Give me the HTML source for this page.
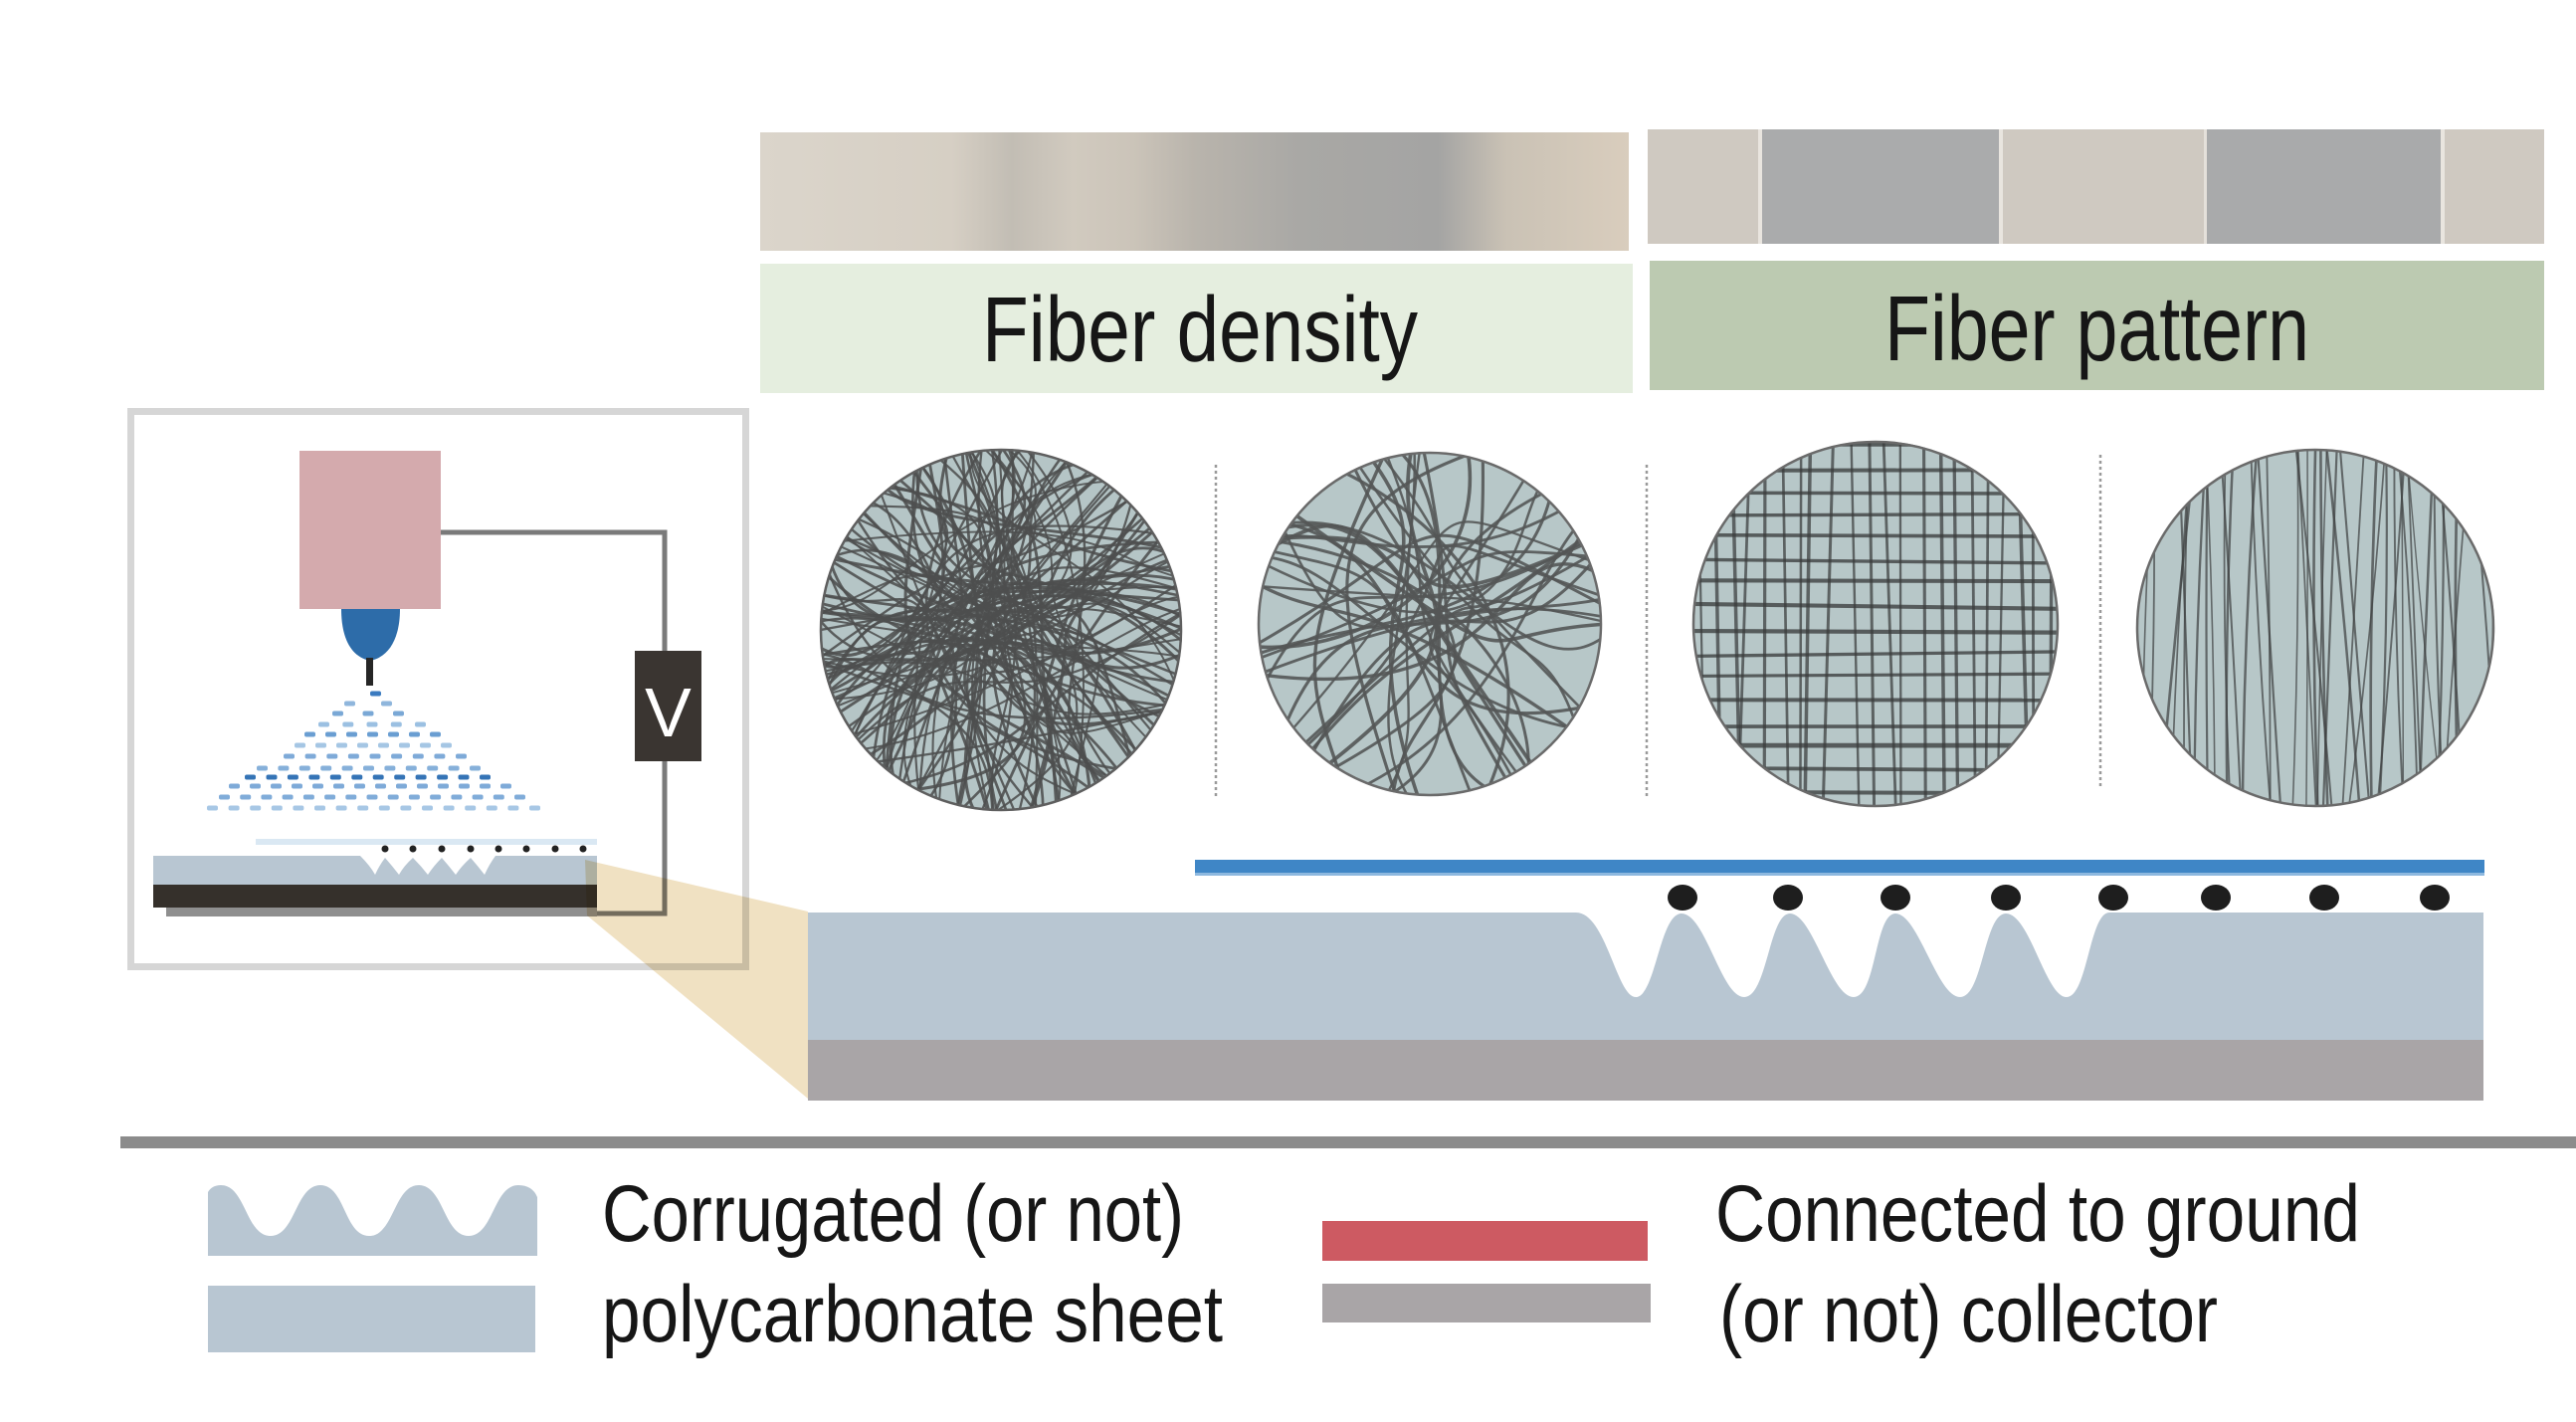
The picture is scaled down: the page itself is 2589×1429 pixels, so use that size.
<!DOCTYPE html>
<html>
<head>
<meta charset="utf-8">
<style>
  html,body{margin:0;padding:0;background:#ffffff;}
  svg{display:block;}
  text{font-family:"Liberation Sans", Arial, sans-serif;}
</style>
</head>
<body>
<svg id="root" xmlns="http://www.w3.org/2000/svg" width="2589" height="1429" viewBox="0 0 2589 1429">
  <defs>
    <linearGradient id="strip1" x1="764" y1="0" x2="1637" y2="0" gradientUnits="userSpaceOnUse">
      <stop offset="0" stop-color="#dbd5cb"/>
      <stop offset="0.22" stop-color="#d6cfc4"/>
      <stop offset="0.29" stop-color="#c2bdb4"/>
      <stop offset="0.36" stop-color="#d1cabf"/>
      <stop offset="0.43" stop-color="#cbc4b9"/>
      <stop offset="0.50" stop-color="#b9b4ac"/>
      <stop offset="0.62" stop-color="#a9a8a5"/>
      <stop offset="0.78" stop-color="#a4a4a3"/>
      <stop offset="0.86" stop-color="#cac2b5"/>
      <stop offset="1" stop-color="#d9cdbd"/>
    </linearGradient>
    <clipPath id="cp1"><circle cx="1006" cy="633" r="182"/></clipPath>
    <clipPath id="cp2"><circle cx="1437" cy="627" r="173"/></clipPath>
    <clipPath id="cp3"><circle cx="1885" cy="627" r="184"/></clipPath>
    <clipPath id="cp4"><circle cx="2327" cy="631" r="180"/></clipPath>
  </defs>

  <!-- Photo strips -->
  <rect x="764" y="133" width="873" height="119" fill="url(#strip1)"/>
  <g>
    <rect x="1656" y="130" width="901" height="115" fill="#cfc9c1"/>
    <rect x="1770" y="130" width="240" height="115" fill="#aaabac"/>
    <rect x="2217" y="130" width="237" height="115" fill="#a9aaab"/>
    <rect x="1767" y="130" width="4" height="115" fill="#e9e5df"/>
    <rect x="2009" y="130" width="4" height="115" fill="#e9e5df"/>
    <rect x="2215" y="130" width="3" height="115" fill="#e4e0da"/>
    <rect x="2453" y="130" width="4" height="115" fill="#e9e5df"/>
  </g>

  <!-- Header boxes -->
  <rect x="764" y="265" width="877" height="130" fill="#e5eedf"/>
  <rect x="1658" y="262" width="899" height="130" fill="#bccab1"/>
  <text x="987" y="363" font-size="93" fill="#161616" textLength="438" lengthAdjust="spacingAndGlyphs">Fiber density</text>
  <text x="1894" y="362" font-size="93" fill="#161616" textLength="427" lengthAdjust="spacingAndGlyphs">Fiber pattern</text>

  <!-- Circles -->
  <circle cx="1006" cy="633" r="182" fill="#b5c5c6"/>
  <circle cx="1437" cy="627" r="173" fill="#b7c7c8"/>
  <circle cx="1885" cy="627" r="184" fill="#b7c7c8"/>
  <circle cx="2327" cy="631" r="180" fill="#b7c7c8"/>
  <g id="f1" clip-path="url(#cp1)"></g>
  <g id="f2" clip-path="url(#cp2)"></g>
  <g id="f3" clip-path="url(#cp3)"></g>
  <g id="f4" clip-path="url(#cp4)"></g>
  <circle cx="1006" cy="633" r="181" fill="none" stroke="#5e5e5e" stroke-width="2.5"/>
  <circle cx="1437" cy="627" r="172" fill="none" stroke="#6a6a6a" stroke-width="2.5"/>
  <circle cx="1885" cy="627" r="183" fill="none" stroke="#6a6a6a" stroke-width="2.5"/>
  <circle cx="2327" cy="631" r="179" fill="none" stroke="#6a6a6a" stroke-width="2.5"/>

  <!-- dotted dividers -->
  <line x1="1222" y1="467" x2="1222" y2="801" stroke="#9a9a9a" stroke-width="2.5" stroke-dasharray="3,3"/>
  <line x1="1655" y1="467" x2="1655" y2="801" stroke="#9a9a9a" stroke-width="2.5" stroke-dasharray="3,3"/>
  <line x1="2111" y1="457" x2="2111" y2="790" stroke="#9a9a9a" stroke-width="2.5" stroke-dasharray="3,3"/>

  <!-- Left setup frame -->
  <rect x="131.5" y="413.5" width="618" height="558" fill="none" stroke="#d6d6d6" stroke-width="7"/>
  <!-- wire -->
  <polyline points="443,535 668,535 668,654" fill="none" stroke="#7a7a7a" stroke-width="5"/>
  <polyline points="668,765 668,918 600,918" fill="none" stroke="#7a7a7a" stroke-width="5"/>
  <!-- V box -->
  <rect x="638" y="654" width="67" height="111" fill="#3a3531"/>
  <text x="671.5" y="740" font-size="70" fill="#ffffff" text-anchor="middle">V</text>
  <!-- pump -->
  <rect x="301" y="453" width="142" height="159" fill="#d4aaad"/>
  <path d="M343,612 L402,612 C402,640 392,660 372,664 C352,660 343,640 343,612 Z" fill="#2d6ca9"/>
  <rect x="368" y="661" width="7" height="28" fill="#262626"/>
  <!-- spray -->
  <g id="spray"></g>
  <!-- small collector -->
  <rect x="257" y="843" width="343" height="6" fill="#dae8f3"/>
  <g fill="#222">
    <circle cx="387" cy="853" r="3.5"/><circle cx="415" cy="853" r="3.5"/>
    <circle cx="444" cy="853" r="3.5"/><circle cx="473" cy="853" r="3.5"/>
    <circle cx="501" cy="853" r="3.5"/><circle cx="529" cy="853" r="3.5"/>
    <circle cx="558" cy="853" r="3.5"/><circle cx="586" cy="853" r="3.5"/>
  </g>
  <path d="M154,860 L362,860 Q372,870 377,879 Q381,870 387,862 Q394,870 401,879 Q406,870 415,862 Q423,870 430,879 Q436,870 444,862 Q451,870 458,879 Q464,870 473,862 Q480,870 487,879 Q492,868 498,860 L600,860 L600,889 L154,889 Z" fill="#b8c6d2"/>
  <rect x="167" y="910" width="433" height="11" fill="#6a6a6a" opacity="0.75"/>
  <rect x="154" y="889" width="446" height="23" fill="#35302b"/>

  <!-- tan zoom trapezoid -->
  <polygon points="588,864 812,916 812,1104 590,920" fill="#f0e1c2" style="mix-blend-mode:multiply"/>

  <!-- big collector -->
  <rect x="1201" y="864" width="1296" height="15" fill="#3f86c6"/>
  <rect x="1201" y="877" width="1296" height="3" fill="#8db8df"/>
  <path d="M812,917 L1584,917 C1614,917 1625,1002 1644,1002 C1664,1002 1668,918 1690,918 C1714,918 1730,1002 1753,1002 C1776,1002 1778,918 1799,918 C1822,918 1840,1002 1863,1002 C1886,1002 1884,918 1905,918 C1928,918 1947,1002 1970,1002 C1993,1002 1994,918 2016,918 C2040,918 2056,1002 2077,1002 C2098,1002 2100,917 2120,917 L2496,917 L2496,1046 L812,1046 Z" fill="#b8c6d2"/>
  <rect x="812" y="1045" width="1684" height="61" fill="#a9a5a7"/>
  <g fill="#1e1e1e">
    <ellipse cx="1691" cy="902" rx="15" ry="13"/>
    <ellipse cx="1797" cy="902" rx="15" ry="13"/>
    <ellipse cx="1905" cy="902" rx="15" ry="13"/>
    <ellipse cx="2016" cy="902" rx="15" ry="13"/>
    <ellipse cx="2124" cy="902" rx="15" ry="13"/>
    <ellipse cx="2227" cy="902" rx="15" ry="13"/>
    <ellipse cx="2336" cy="902" rx="15" ry="13"/>
    <ellipse cx="2447" cy="902" rx="15" ry="13"/>
  </g>

  <!-- separator -->
  <rect x="121" y="1142" width="2468" height="12" fill="#8c8c8c"/>

  <!-- Legend -->
  <path d="M209,1262 L209,1198 Q213,1191 222,1191 C247,1191 247,1242 272,1242 C297,1242 297,1191 322,1191 C347,1191 346,1242 371,1242 C396,1242 396,1191 421,1191 C446,1191 446,1242 471,1242 C496,1242 496,1191 521,1191 Q535,1191 540,1203 L540,1262 Z" fill="#b8c6d2"/>
  <rect x="209" y="1292" width="329" height="67" fill="#b8c6d2"/>
  <text x="605" y="1247" font-size="81" fill="#161616" textLength="585" lengthAdjust="spacingAndGlyphs">Corrugated (or not)</text>
  <text x="605" y="1348" font-size="81" fill="#161616" textLength="624" lengthAdjust="spacingAndGlyphs">polycarbonate sheet</text>

  <rect x="1329" y="1227" width="327" height="40" fill="#cd5a62"/>
  <rect x="1329" y="1290" width="330" height="39" fill="#a9a5a7"/>
  <text x="1724" y="1247" font-size="81" fill="#161616" textLength="648" lengthAdjust="spacingAndGlyphs">Connected to ground</text>
  <text x="1728" y="1348" font-size="81" fill="#161616" textLength="501" lengthAdjust="spacingAndGlyphs">(or not) collector</text>
</svg>

<script>
(function(){
  var NS="http://www.w3.org/2000/svg";
  function rng(seed){return function(){seed|=0;seed=seed+0x6D2B79F5|0;var t=Math.imul(seed^seed>>>15,1|seed);t=t+Math.imul(t^t>>>7,61|t)^t;return((t^t>>>14)>>>0)/4294967296;};}
  function el(tag,attrs,parent){var e=document.createElementNS(NS,tag);for(var k in attrs)e.setAttribute(k,attrs[k]);parent.appendChild(e);return e;}
  function f(v){return v.toFixed(1);}

  function randomFibers(id,cx,cy,r,n,w,col,op,seed){
    var g=document.getElementById(id),R=rng(seed);
    for(var i=0;i<n;i++){
      var a1=R()*Math.PI*2, a2=a1+Math.PI+(R()-0.5)*2.6;
      var x1=cx+1.1*r*Math.cos(a1), y1=cy+1.1*r*Math.sin(a1);
      var x2=cx+1.1*r*Math.cos(a2), y2=cy+1.1*r*Math.sin(a2);
      var c1x=cx+(R()-0.5)*1.6*r, c1y=cy+(R()-0.5)*1.6*r;
      var c2x=cx+(R()-0.5)*1.6*r, c2y=cy+(R()-0.5)*1.6*r;
      el("path",{d:"M"+f(x1)+","+f(y1)+" C"+f(c1x)+","+f(c1y)+" "+f(c2x)+","+f(c2y)+" "+f(x2)+","+f(y2),
        fill:"none",stroke:col,"stroke-width":(w*(0.75+R()*0.5)).toFixed(2),opacity:op},g);
    }
  }
  randomFibers("f1",1006,633,182,125,2.5,"#4d4f4f",0.88,11);
  randomFibers("f2",1437,627,173,44,3.0,"#545656",0.9,29);

  // grid circle
  (function(){
    var g=document.getElementById("f3"),R=rng(7),cx=1885,cy=627,r=184;
    for(var y=cy-r+6;y<cy+r;y+=21+R()*4){
      var j1=(R()-0.5)*6,j2=(R()-0.5)*6;
      el("line",{x1:cx-r-10,y1:f(y+j1),x2:cx+r+10,y2:f(y+j2),stroke:"#363838","stroke-width":(3+R()*2).toFixed(1),opacity:0.75},g);
    }
    for(var x=cx-r+4;x<cx+r;x+=14+R()*5){
      var k1=(R()-0.5)*8,k2=(R()-0.5)*20;
      el("line",{x1:f(x+k1),y1:cy-r-10,x2:f(x+k2),y2:cy+r+10,stroke:"#3a3c3c","stroke-width":(2+R()*1.6).toFixed(1),opacity:0.72},g);
    }
  })();

  // aligned circle
  (function(){
    var g=document.getElementById("f4"),R=rng(19),cx=2327,cy=631,r=180;
    for(var x=cx-r-14;x<cx+r+14;x+=5.5+R()*3.5){
      var k1=(R()-0.5)*44,k2=(R()-0.5)*44,km=(R()-0.5)*14;
      var xt=x+k1, xb=x+k2, xm=(xt+xb)/2+km;
      el("path",{d:"M"+f(xt)+","+(cy-r-10)+" Q"+f(xm)+","+cy+" "+f(xb)+","+(cy+r+10),
        fill:"none",stroke:"#404242","stroke-width":(1.4+R()*1.3).toFixed(1),opacity:0.72},g);
    }
  })();

  // spray
  (function(){
    var g=document.getElementById("spray");
    var rows=[
      [697,372,383,"#3b7bc0"],
      [707,346,394,"#8fb6dc"],
      [717,334,406,"#7aa8d6"],
      [728,320,428,"#9bc0e2"],
      [738,306,443,"#6a9ed2"],
      [749,296,454,"#a5c6e4"],
      [760,285,469,"#7eaad8"],
      [772,258,483,"#86b0da"],
      [781,246,493,"#3574b6"],
      [790,230,514,"#7eaad8"],
      [801,220,528,"#80acd9"],
      [812,208,543,"#a7c7e5"]
    ];
    rows.forEach(function(rw){
      var y=rw[0],x0=rw[1],x1=rw[2],c=rw[3];
      var n=Math.max(1,Math.round((x1-x0)/21));
      var step=(x1-x0-11)/Math.max(1,n-1);
      if(n===1){el("rect",{x:x0,y:y-2.5,width:11,height:5,rx:2,fill:c},g);return;}
      for(var i=0;i<n;i++){
        el("rect",{x:f(x0+i*step),y:y-2.5,width:11,height:5,rx:2,fill:c},g);
      }
    });
  })();
})();
</script>
</body>
</html>
